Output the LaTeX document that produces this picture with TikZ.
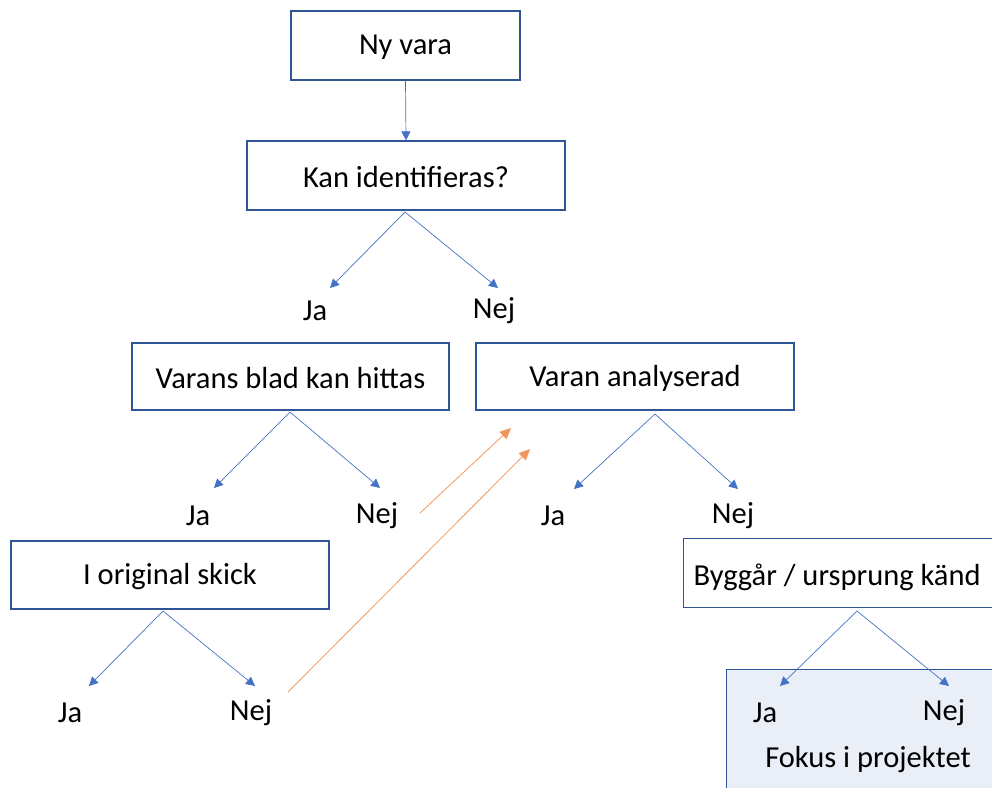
\documentclass[tikz,border=0pt]{standalone}
\usepackage{fontspec}
\setmainfont{Carlito}
\usetikzlibrary{arrows.meta}
\definecolor{boxblue}{HTML}{2F5597}
\definecolor{lineblue}{HTML}{4472C4}
\definecolor{arrorange}{HTML}{ED7D31}
\definecolor{fokusfill}{HTML}{E9EEF7}
\begin{document}
\begin{tikzpicture}[x=1pt,y=-1pt,
  box/.style={draw=boxblue,line width=1.3pt,fill=white,inner sep=0pt},
  lbl/.style={font=\fontsize{30.5}{36}\selectfont,inner sep=0pt},
  conn/.style={draw=lineblue,line width=0.7pt,-{Triangle[length=9pt,width=9pt]}},
  oconn/.style={draw=arrorange!80,line width=0.8pt,-{Triangle[length=11pt,width=10pt]}}]
\useasboundingbox (0,0) rectangle (992,787);
\clip (0,0) rectangle (992,787);
% Fokus box (background)
\node[draw=boxblue,line width=1.3pt,fill=fokusfill,minimum width=280pt,minimum height=130pt,anchor=north west] (fokus) at (726,669) {};
\node[lbl] (fokustxt) at (868,760) {Fokus i projektet};
% boxes
\node[box,minimum width=229pt,minimum height=69pt] (ny) at (405.5,45.5) {};
\node[lbl] (nytxt) at ([yshift=-1.5pt]ny.center) {Ny vara};
\node[box,minimum width=318pt,minimum height=69pt] (kan) at (406,175.5) {};
\node[lbl] (kantxt) at ([yshift=-1.5pt]kan.center) {Kan identifieras?};
\node[box,minimum width=317pt,minimum height=67pt] (blad) at (290.5,376.5) {};
\node[lbl] (bladtxt) at ([yshift=-1.5pt]blad.center) {Varans blad kan hittas};
\node[box,minimum width=318pt,minimum height=67pt] (anal) at (635,376.5) {};
\node[lbl] (analtxt) at ([yshift=-1.5pt]anal.center) {Varan analyserad};
\node[box,minimum width=318pt,minimum height=68pt] (orig) at (170,575) {};
\node[lbl] (origtxt) at ([yshift=-1.5pt]orig.center) {I original skick};
\node[box,minimum width=330pt,minimum height=69pt,anchor=north west] (bygg) at (683,538) {};
\node[lbl] (byggtxt) at (837,577) {Byggår / ursprung känd};
% labels
\node[lbl] (ja1) at (315,311) {Ja};
\node[lbl] (nej1) at (494,311) {Nej};
\node[lbl] (ja2) at (198,516) {Ja};
\node[lbl] (nej2) at (377,516) {Nej};
\node[lbl] (ja3) at (553,516) {Ja};
\node[lbl] (nej3) at (733,516) {Nej};
\node[lbl] (ja4) at (70,713) {Ja};
\node[lbl] (nej4) at (251,713) {Nej};
\node[lbl] (ja5) at (765,713) {Ja};
\node[lbl] (nej5) at (944,713) {Nej};
% apex coordinates and arrow ends
\coordinate (kanA) at (405,212);
\coordinate (bladA) at (290,412);
\coordinate (analA) at (655,414);
\coordinate (origA) at (163,611);
\coordinate (byggA) at (857,611);
\coordinate (e1a) at (330,288); \coordinate (e1b) at (498,288);
\coordinate (e2a) at (214,488); \coordinate (e2b) at (380,488);
\coordinate (e3a) at (574,489); \coordinate (e3b) at (738,489);
\coordinate (e4a) at (89,686);  \coordinate (e4b) at (255,686);
\coordinate (e5a) at (780,686); \coordinate (e5b) at (949,686);
\draw[conn] (ny.south) -- (kan.north);
\draw[conn] (kanA) -- (e1a);
\draw[conn] (kanA) -- (e1b);
\draw[conn] (bladA) -- (e2a);
\draw[conn] (bladA) -- (e2b);
\draw[conn] (analA) -- (e3a);
\draw[conn] (analA) -- (e3b);
\draw[conn] (origA) -- (e4a);
\draw[conn] (origA) -- (e4b);
\draw[conn] (byggA) -- (e5a);
\draw[conn] (byggA) -- (e5b);
% orange arrows
\coordinate (o1s) at (420,513); \coordinate (o1e) at (511,428);
\coordinate (o2s) at (288,692); \coordinate (o2e) at (530,449);
\draw[oconn] (o1s) -- (o1e);
\draw[oconn] (o2s) -- (o2e);
\end{tikzpicture}
\end{document}
